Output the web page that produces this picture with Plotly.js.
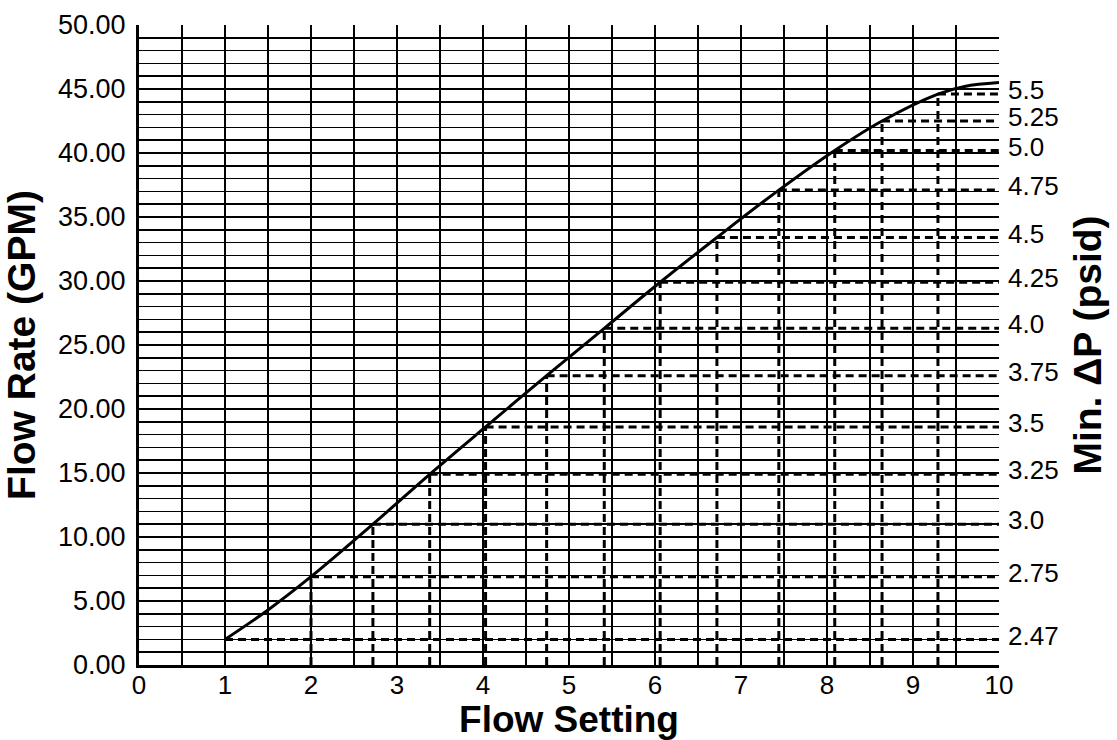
<!DOCTYPE html>
<html>
<head>
<meta charset="utf-8">
<script src="https://cdn.plot.ly/plotly-3.0.1.min.js"></script>
<style>
  html, body { margin: 0; padding: 0; background: #fff; }
  #chart { width: 1117px; height: 740px; }
</style>
</head>
<body>
<div id="chart"></div>
<script>
// Flow setting at each marked point on the curve
const flowSetting = [1.00, 2.00, 2.72, 3.38, 4.03, 4.74, 5.41, 6.06, 6.72, 7.44, 8.09, 8.64, 9.29];
// Flow rate (GPM) at each marked point
const flowRate    = [2.0, 6.9, 11.0, 14.9, 18.6, 22.6, 26.3, 29.9, 33.4, 37.1, 40.2, 42.5, 44.6];
// Min. ΔP (psid) labels on the right axis
const dpLabels    = ['2.47', '2.75', '3.0', '3.25', '3.5', '3.75', '4.0', '4.25', '4.5', '4.75', '5.0', '5.25', '5.5'];
// Curve points
const curveX = [1.00, 1.50, 2.00, 2.72, 3.38, 4.03, 4.74, 5.41, 6.06, 6.72, 7.44, 8.09, 8.64, 9.29, 9.60, 10.00];
const curveY = [2.0, 4.3, 6.9, 11.0, 14.9, 18.6, 22.6, 26.3, 29.9, 33.4, 37.1, 40.2, 42.5, 44.6, 45.2, 45.5];
// Axis ranges
const xMax = 10;
const yMax = 50;

// Build dashed reference lines from the data
const hx = [], hy = [], vx = [], vy = [];
flowSetting.forEach((x, i) => {
  hx.push(x, xMax, null);
  hy.push(flowRate[i], flowRate[i], null);
  if (i > 0) {
    vx.push(x, x, null);
    vy.push(0, flowRate[i], null);
  }
});

const FONT = '"Liberation Sans", Arial, Helvetica, sans-serif';

const traces = [
  {
    x: vx, y: vy, type: 'scatter', mode: 'lines', hoverinfo: 'skip',
    line: { color: '#000', width: 3, dash: '8px,5px' }, showlegend: false
  },
  {
    x: hx, y: hy, type: 'scatter', mode: 'lines', hoverinfo: 'skip',
    line: { color: '#000', width: 3, dash: '8px,5px' }, showlegend: false
  },
  {
    x: curveX, y: curveY, type: 'scatter', mode: 'lines',
    line: { color: '#000', width: 3, shape: 'spline', smoothing: 1 }, showlegend: false
  },
  {
    x: [xMax], y: [0], yaxis: 'y2', type: 'scatter', mode: 'markers',
    marker: { opacity: 0 }, hoverinfo: 'skip', showlegend: false
  }
];

const layout = {
  width: 1117, height: 740,
  margin: { l: 139, r: 118, t: 25, b: 75 },
  paper_bgcolor: '#fff', plot_bgcolor: '#fff',
  font: { family: FONT, color: '#000', size: 26 },
  showlegend: false,
  xaxis: {
    range: [0, xMax], dtick: 1, tick0: 0,
    showgrid: true, gridcolor: '#000', gridwidth: 1.5,
    minor: { dtick: 0.5, showgrid: true, gridcolor: '#000', gridwidth: 1.5 },
    showline: true, linecolor: '#000', linewidth: 3,
    zeroline: false, ticks: '', ticklen: 0, ticklabelstandoff: -5,
    tickfont: { family: FONT, size: 26, color: '#000' },
    title: { text: 'Flow Setting', standoff: 6, font: { family: FONT, size: 37, color: '#000', weight: 'bold' } }
  },
  yaxis: {
    range: [0, yMax], dtick: 5, tick0: 0, tickformat: '.2f',
    showgrid: true, gridcolor: '#000', gridwidth: 1.5,
    minor: { dtick: 1, showgrid: true, gridcolor: '#000', gridwidth: 1.5 },
    showline: true, linecolor: '#000', linewidth: 3,
    zeroline: false, ticks: '', ticklabelstandoff: 5,
    tickfont: { family: FONT, size: 27, color: '#000' },
    title: { text: 'Flow Rate (GPM)', standoff: 14, font: { family: FONT, size: 39, color: '#000', weight: 'bold' } }
  },
  yaxis2: {
    overlaying: 'y', side: 'right', range: [0, yMax],
    tickmode: 'array', tickvals: flowRate, ticktext: dpLabels,
    showgrid: false, zeroline: false, showline: false, ticks: '', ticklabelstandoff: 8,
    ticklabelshift: -4,
    tickfont: { family: FONT, size: 26, color: '#000' },
    title: { text: 'Min. ΔP (psid)', standoff: 16, font: { family: FONT, size: 39, color: '#000', weight: 'bold' } }
  }
};

Plotly.newPlot('chart', traces, layout, { displayModeBar: false, staticPlot: true });
</script>
</body>
</html>
